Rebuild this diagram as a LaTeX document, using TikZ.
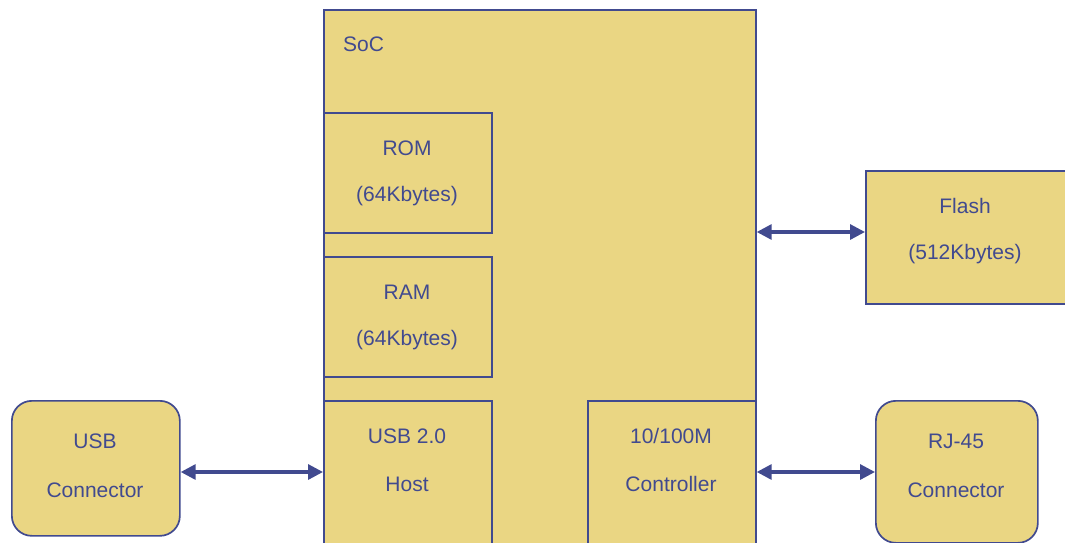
\documentclass[tikz,border=0pt]{standalone}
\usepackage{fontspec}
\setmainfont{Liberation Sans}
\usetikzlibrary{arrows.meta}
\definecolor{fillc}{HTML}{EAD683}
\definecolor{linec}{HTML}{414A8F}
\begin{document}
\begin{tikzpicture}[x=1pt,y=-1pt,
  blk/.style={draw=linec, fill=fillc, line width=1.7pt, anchor=north west, inner sep=0pt},
  rblk/.style={blk, rounded corners=20pt},
  txt/.style={text=linec, font=\fontsize{21}{25}\selectfont, inner sep=0pt},
  link/.style={draw=linec, line width=3.2pt, {Triangle[length=15pt,width=15pt]}-{Triangle[length=15pt,width=15pt]}}]
\useasboundingbox (0,0) rectangle (1065,543);
\clip (0,0) rectangle (1065,543);
\node[blk, minimum width=432pt, minimum height=560pt] (soc) at (323,9) {};
\node[blk, minimum width=168pt, minimum height=120pt] (rom) at (323,112) {};
\node[blk, minimum width=168pt, minimum height=120pt] (ram) at (323,256) {};
\node[blk, minimum width=168pt, minimum height=170pt] (usbh) at (323,400) {};
\node[blk, minimum width=168pt, minimum height=170pt] (ctrl) at (587,400) {};
\node[blk, minimum width=215pt, minimum height=133pt] (flash) at (865,170) {};
\node[rblk, minimum width=168pt, minimum height=135pt] (usbc) at (11,400) {};
\node[rblk, minimum width=162pt, minimum height=142pt] (rj) at (875,400) {};
\node[txt, anchor=west] (soct) at (343,44) {SoC};
\node[txt] (rom1) at (407,148) {ROM};
\node[txt] (rom2) at (407,196) {(64Kbytes)};
\node[txt] (ram1) at (407,292) {RAM};
\node[txt] (ram2) at (407,340) {(64Kbytes)};
\node[txt] (usbh1) at (407,436) {USB 2.0};
\node[txt] (usbh2) at (407,484) {Host};
\node[txt] (ctrl1) at (671,436) {10/100M};
\node[txt] (ctrl2) at (671,484) {Controller};
\node[txt] (flash1) at (965,206) {Flash};
\node[txt] (flash2) at (965,254) {(512Kbytes)};
\node[txt] (usbc1) at (95,441) {USB};
\node[txt] (usbc2) at (95,490) {Connector};
\node[txt] (rj1) at (956,441) {RJ-45};
\node[txt] (rj2) at (956,490) {Connector};
\draw[link] (usbc.east |- 0,472) -- (usbh.west |- 0,472);
\draw[link] (soc.east |- 0,232) -- (flash.west |- 0,232);
\draw[link] (ctrl.east |- 0,472) -- (rj.west |- 0,472);
\end{tikzpicture}
\end{document}
